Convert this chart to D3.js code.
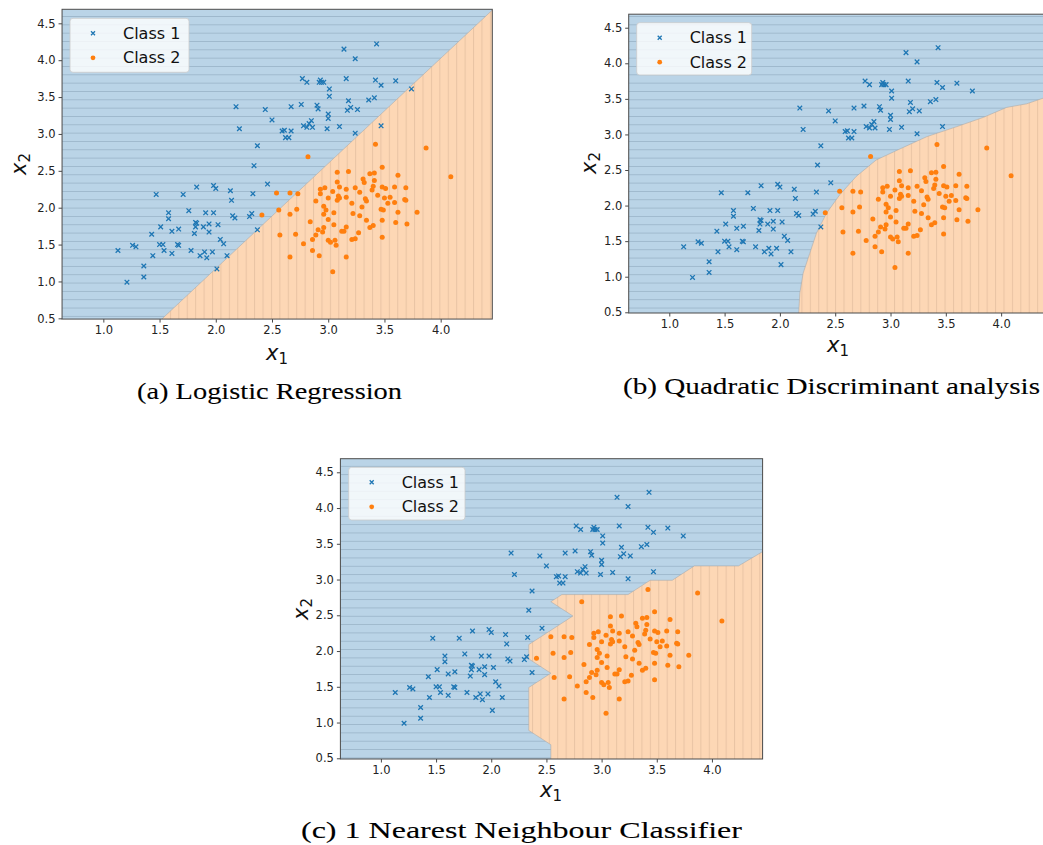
<!DOCTYPE html>
<html>
<head>
<meta charset="utf-8">
<script src="https://cdn.jsdelivr.net/npm/d3@7"></script>
<style>
  body { margin: 0; background: #fff; }
  svg { display: block; }
</style>
</head>
<body>
<svg id="fig" width="1043" height="845"></svg>
<script>
// ---- Observations (x1, x2) ----
const class1X1 = [1.13,1.21,1.26,1.29,1.36,1.36,1.43,1.44,1.47,1.51,
  1.50,1.53,1.54,1.58,1.58,1.61,1.61,1.67,1.66,1.67,
  1.71,1.76,1.78,1.81,1.82,1.83,1.82,1.83,1.86,1.89,
  1.90,1.91,1.92,1.94,1.94,1.97,1.98,1.98,2.00,2.01,
  2.02,2.04,2.07,2.10,2.13,2.14,2.15,2.17,2.18,2.21,
  2.30,2.32,2.33,2.34,2.37,2.37,2.44,2.46,2.50,2.59,
  2.61,2.62,2.65,2.67,2.67,2.76,2.77,2.78,2.81,2.81,
  2.83,2.85,2.86,2.90,2.91,2.92,2.93,2.94,2.96,3.00,
  3.00,2.99,3.01,3.01,3.10,3.14,3.16,3.18,3.17,3.20,
  3.24,3.24,3.26,3.36,3.41,3.42,3.43,3.47,3.47,3.60,3.74];
const class1X2 = [1.42,0.99,1.49,1.47,1.21,1.06,1.64,1.35,2.18,1.74,
  1.50,1.50,1.42,1.93,1.85,1.68,1.38,1.71,1.50,1.49,
  2.18,1.96,1.42,1.65,1.80,1.79,1.74,2.28,1.35,1.74,
  1.40,1.93,1.32,1.67,1.78,1.40,1.93,2.30,2.26,1.17,
  1.77,1.57,1.51,1.35,2.23,2.10,1.89,1.86,3.37,3.07,
  1.88,1.92,2.19,2.57,1.70,2.84,3.33,2.32,3.19,3.04,
  3.05,2.95,2.95,3.04,3.37,3.40,3.75,3.11,3.70,3.09,
  3.14,3.18,3.09,3.39,3.34,3.70,3.73,3.70,3.70,3.27,
  3.21,3.07,3.61,3.51,3.10,4.15,3.75,3.45,3.32,3.36,
  4.02,3.01,3.33,3.46,3.49,3.73,4.22,3.66,3.11,3.72,3.61];

const class2X1 = [2.41,2.54,2.56,2.57,2.66,2.66,2.66,2.72,2.71,2.73,
  2.78,2.82,2.84,2.86,2.86,2.89,2.89,2.91,2.92,2.93,
  2.97,2.93,2.96,2.98,2.96,3.00,3.00,2.96,2.95,3.00,
  3.02,3.04,3.04,3.05,3.05,3.06,3.07,3.08,3.08,3.10,
  3.09,3.08,3.10,
  3.16,3.16,3.18,3.12,3.14,3.16,3.16,3.21,3.21,3.22,
  3.24,3.24,3.27,3.28,3.28,3.30,3.31,3.32,3.33,3.34,
  3.34,3.37,3.37,3.39,3.40,3.40,3.41,3.41,3.42,3.44,
  3.47,3.48,3.48,3.48,3.48,3.49,3.50,3.51,3.53,3.55,
  3.59,3.59,3.60,3.62,3.62,3.68,3.69,3.69,3.70,3.79,
  3.87,4.09];
const class2X2 = [1.90,2.20,1.97,1.63,2.20,1.91,1.33,1.98,1.64,2.19,
  1.51,2.69,1.81,1.57,1.42,1.63,2.09,1.70,1.35,2.25,
  2.27,2.19,2.02,1.97,1.91,1.84,2.13,1.73,1.67,1.56,
  1.53,1.13,2.22,1.93,1.77,1.56,1.49,2.48,2.35,2.28,
  2.16,2.10,2.13,
  2.25,2.14,2.49,1.68,1.68,1.74,1.33,2.06,1.57,1.92,
  2.27,1.58,1.66,1.89,2.21,2.01,2.39,2.34,2.12,2.09,
  1.83,1.73,2.46,2.24,1.76,2.29,2.47,2.37,2.86,2.17,
  1.98,2.28,1.83,1.60,2.55,1.97,2.13,2.26,2.06,2.14,
  2.28,2.07,1.80,2.44,1.94,2.11,2.10,2.27,1.78,1.94,
  2.81,2.42];

// ---- Decision boundaries (edge of the Class 2 region, bottom to right) ----
const logregBoundaryX1 = [1.52, 4.459];
const logregBoundaryX2 = [0.49, 4.68];

const qdaBoundaryX1 = [2.17,2.18,2.21,2.27,2.33,2.42,2.54,2.69,2.87,3.09,3.33,3.60,3.84,4.05,4.23,4.38,4.459];
const qdaBoundaryX2 = [0.49,0.77,1.05,1.33,1.61,1.89,2.15,2.41,2.64,2.80,2.97,3.11,3.24,3.38,3.43,3.51,3.55];

const nnBoundaryX1 = [2.54,2.54,2.34,2.34,2.54,2.34,2.34,2.74,2.54,2.64,3.24,3.44,3.64,3.84,4.24,4.459];
const nnBoundaryX2 = [0.49,0.69,0.89,1.49,1.69,1.89,2.09,2.49,2.69,2.79,2.79,2.99,2.99,3.19,3.19,3.39];

// ---- Axes ----
const xDomain = [0.633, 4.459];
const yDomain = [0.49, 4.69];
const xTickValues = [1.0, 1.5, 2.0, 2.5, 3.0, 3.5, 4.0];
const yTickValues = [0.5, 1.0, 1.5, 2.0, 2.5, 3.0, 3.5, 4.0, 4.5];
const legendLabels = ["Class 1", "Class 2"];

// ---- Layout ----
const panels = [
  { key: "a", caption: "(a) Logistic Regression",
    bx: logregBoundaryX1, by: logregBoundaryX2,
    box: { left: 62.06, right: 492.3, top: 9.3, bottom: 319.07 },
    legend: { x: 70, y: 18.3, w: 119, h: 54 },
    xlab: { x: 277, y: 360 }, ylab: { x: 26, y: 164 },
    cap: { x: 137, y: 398.5, w: 265 } },
  { key: "b", caption: "(b) Quadratic Discriminant analysis",
    bx: qdaBoundaryX1, by: qdaBoundaryX2,
    box: { left: 628.7, right: 1051.9, top: 14.2, bottom: 313.0 },
    legend: { x: 636.7, y: 22.7, w: 115, h: 52.3 },
    xlab: { x: 838, y: 352 }, ylab: { x: 596, y: 163 },
    cap: { x: 623, y: 394, w: 417 } },
  { key: "c", caption: "(c) 1 Nearest Neighbour Classifier",
    bx: nnBoundaryX1, by: nnBoundaryX2,
    box: { left: 340.4, right: 762.6, top: 458.7, bottom: 759.0 },
    legend: { x: 348.7, y: 467.3, w: 116.3, h: 52.7 },
    xlab: { x: 551, y: 797 }, ylab: { x: 308, y: 609 },
    cap: { x: 301, y: 838, w: 441 } }
];

const BLUE = "#1f77b4", ORANGE = "#ff7f0e";
const FILL_BLUE = "#bad4e7", FILL_ORANGE = "#fdd7b5";
const HATCH_BLUE = "#9eb8cc", HATCH_ORANGE = "#e9c4a4";

const svg = d3.select("#fig");
svg.append("rect").attr("width", 1043).attr("height", 845).attr("fill", "#fff");
const defs = svg.append("defs");

// horizontal hatch for Class 1 region, vertical hatch for Class 2 region
const hp = defs.append("pattern").attr("id", "hatchH")
  .attr("patternUnits", "userSpaceOnUse").attr("x", 0).attr("y", 7.7)
  .attr("width", 40).attr("height", 8.33);
hp.append("rect").attr("width", 40).attr("height", 8.33).attr("fill", FILL_BLUE);
hp.append("line").attr("x1", 0).attr("x2", 40).attr("y1", 0.5).attr("y2", 0.5)
  .attr("stroke", HATCH_BLUE).attr("stroke-width", 1);

const vp = defs.append("pattern").attr("id", "hatchV")
  .attr("patternUnits", "userSpaceOnUse").attr("x", 1.5).attr("y", 0)
  .attr("width", 8.42).attr("height", 40);
vp.append("rect").attr("width", 8.42).attr("height", 40).attr("fill", FILL_ORANGE);
vp.append("line").attr("y1", 0).attr("y2", 40).attr("x1", 0.5).attr("x2", 0.5)
  .attr("stroke", HATCH_ORANGE).attr("stroke-width", 1);

const class1 = class1X1.map((v, i) => [v, class1X2[i]]);
const class2 = class2X1.map((v, i) => [v, class2X2[i]]);

const crossPath = "M-2.3,-2.3L2.3,2.3M-2.3,2.3L2.3,-2.3";

panels.forEach(p => {
  const b = p.box;
  const x = d3.scaleLinear().domain(xDomain).range([b.left, b.right]);
  const y = d3.scaleLinear().domain(yDomain).range([b.bottom, b.top]);
  const g = svg.append("g");

  const clipId = "clip-" + p.key;
  defs.append("clipPath").attr("id", clipId).append("rect")
    .attr("x", b.left).attr("y", b.top)
    .attr("width", b.right - b.left).attr("height", b.bottom - b.top);

  const plot = g.append("g").attr("clip-path", `url(#${clipId})`);

  // Class 1 decision region (background)
  plot.append("rect")
    .attr("x", b.left).attr("y", b.top)
    .attr("width", b.right - b.left).attr("height", b.bottom - b.top)
    .attr("fill", "url(#hatchH)");

  // Class 2 decision region: boundary closed through the lower-right corner
  const boundary = p.bx.map((v, i) => [v, p.by[i]]);
  const region = boundary.concat([[xDomain[1] + 0.1, p.by[p.by.length - 1]], [xDomain[1] + 0.1, yDomain[0] - 0.1], [p.bx[0], yDomain[0] - 0.1]]);
  const line = d3.line().x(d => x(d[0])).y(d => y(d[1]));
  plot.append("path").attr("d", line(region) + "Z")
    .attr("fill", "url(#hatchV)");
  plot.append("path").attr("d", line(boundary))
    .attr("fill", "none").attr("stroke", "#a9a9a9").attr("stroke-opacity", 0.7)
    .attr("stroke-width", 0.8);

  // Scatter points
  plot.append("g").selectAll("path").data(class1).join("path")
    .attr("d", crossPath)
    .attr("transform", d => `translate(${x(d[0])},${y(d[1])})`)
    .attr("stroke", BLUE).attr("stroke-width", 1.3).attr("fill", "none");
  plot.append("g").selectAll("circle").data(class2).join("circle")
    .attr("cx", d => x(d[0])).attr("cy", d => y(d[1])).attr("r", 2.5)
    .attr("fill", ORANGE);

  // Axes
  const fmt = d3.format(".1f");
  const xAxis = g.append("g").attr("transform", `translate(0,${b.bottom})`)
    .call(d3.axisBottom(x).tickValues(xTickValues).tickFormat(fmt).tickSize(3.5).tickPadding(3));
  const yAxis = g.append("g").attr("transform", `translate(${b.left},0)`)
    .call(d3.axisLeft(y).tickValues(yTickValues).tickFormat(fmt).tickSize(3.5).tickPadding(3));
  [xAxis, yAxis].forEach(a => {
    a.select(".domain").remove();
    a.selectAll("line").attr("stroke", "#333").attr("stroke-width", 0.9);
    a.selectAll("text").attr("fill", "#222")
      .style("font-family", "'DejaVu Sans', sans-serif").style("font-size", "11.5px");
  });

  // Frame
  g.append("rect").attr("x", b.left).attr("y", b.top)
    .attr("width", b.right - b.left).attr("height", b.bottom - b.top)
    .attr("fill", "none").attr("stroke", "#4a4a4a").attr("stroke-width", 1);

  // Axis labels
  const xl = g.append("text").attr("x", p.xlab.x).attr("y", p.xlab.y)
    .attr("text-anchor", "middle").attr("fill", "#111")
    .style("font-family", "'DejaVu Sans', sans-serif").style("font-size", "21px");
  xl.append("tspan").style("font-style", "italic").text("x");
  xl.append("tspan").attr("dy", 4).style("font-size", "15px").text("1");

  const yl = g.append("text")
    .attr("transform", `translate(${p.ylab.x},${p.ylab.y}) rotate(-90)`)
    .attr("text-anchor", "middle").attr("fill", "#111")
    .style("font-family", "'DejaVu Sans', sans-serif").style("font-size", "21px");
  yl.append("tspan").style("font-style", "italic").text("x");
  yl.append("tspan").attr("dy", 4).style("font-size", "15px").text("2");

  // Legend
  const L = p.legend;
  const lg = g.append("g");
  lg.append("rect").attr("x", L.x).attr("y", L.y).attr("width", L.w).attr("height", L.h)
    .attr("rx", 3).attr("fill", "#fff").attr("fill-opacity", 0.8)
    .attr("stroke", "#cccccc").attr("stroke-width", 0.8);
  legendLabels.forEach((lab, i) => {
    const cy = L.y + 15 + i * 24.5;
    const mx = L.x + 23;
    if (i === 0) {
      lg.append("path").attr("d", "M-2,-2L2,2M-2,2L2,-2")
        .attr("transform", `translate(${mx},${cy})`)
        .attr("stroke", BLUE).attr("stroke-width", 1.3);
    } else {
      lg.append("circle").attr("cx", mx).attr("cy", cy).attr("r", 2.4).attr("fill", ORANGE);
    }
    lg.append("text").attr("x", mx + 30).attr("y", cy + 5.5)
      .attr("fill", "#111")
      .style("font-family", "'DejaVu Sans', sans-serif").style("font-size", "16px")
      .text(lab);
  });

  // Caption
  svg.append("text").attr("x", p.cap.x).attr("y", p.cap.y)
    .attr("textLength", p.cap.w).attr("lengthAdjust", "spacingAndGlyphs")
    .attr("fill", "#000").attr("stroke", "#000").attr("stroke-width", 0.1)
    .style("font-family", "'Liberation Serif', serif").style("font-size", "23px")
    .text(p.caption);
});
</script>
</body>
</html>
